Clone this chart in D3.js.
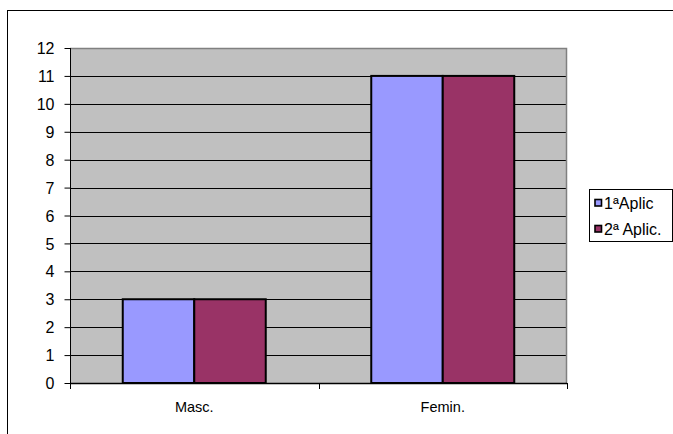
<!DOCTYPE html>
<html><head><meta charset="utf-8">
<script src="https://cdn.jsdelivr.net/npm/d3@7"></script>
<style>body{margin:0;background:#fff}svg{display:block}text{font-family:Arial,"Liberation Sans",sans-serif}</style>
</head><body>
<svg id="c" width="673" height="434"></svg>
<script>
const categories = ["Masc.", "Femin."];
const seriesNames = ["1ªAplic", "2ª Aplic."];
const serie1 = [3, 11];
const serie2 = [3, 11];
const yTicks = [0,1,2,3,4,5,6,7,8,9,10,11,12];
const colors = ["#9999FF", "#993366"];

const svg = d3.select("#c");
// outer frame
svg.append("rect").attr("x",7.5).attr("y",10.5).attr("width",680).attr("height",440)
  .attr("fill","none").attr("stroke","#000").attr("stroke-width",1);

const L=70, R=567, T=48, B=383;
const y = d3.scaleLinear().domain([0,12]).range([B,T]);
const x0 = d3.scaleBand().domain(categories).range([L,R]).paddingInner(0).paddingOuter(0);
const groupW = 143;
const x1 = d3.scaleBand().domain(seriesNames).range([0,groupW]);

svg.append("rect").attr("x",L).attr("y",T).attr("width",R-L).attr("height",B-T).attr("fill","#C0C0C0");
// gridlines
svg.append("g").selectAll("line").data(yTicks.filter(d=>d>0)).join("line")
  .attr("x1",L).attr("x2",R).attr("y1",d=>Math.round(y(d))+0.5).attr("y2",d=>Math.round(y(d))+0.5)
  .attr("stroke","#000").attr("stroke-width",1);
// plot border top/right grey
svg.append("path").attr("d",`M${L},${T+0.5}H${R-0.5}V${B}`).attr("fill","none").attr("stroke","#808080").attr("stroke-width",1.5);

const data = [serie1, serie2];
const g = svg.append("g");
categories.forEach((c,i)=>{
  const gx = x0(c) + (x0.bandwidth()-groupW)/2;
  seriesNames.forEach((s,j)=>{
    const v = data[j][i];
    g.append("rect").attr("x",gx+x1(s)).attr("y",y(v)).attr("width",x1.bandwidth()).attr("height",y(0)-y(v))
      .attr("fill",colors[j]).attr("stroke","#000").attr("stroke-width",2);
  });
});

// y axis
const ya = svg.append("g").attr("transform",`translate(${L+0.5},0)`)
  .call(d3.axisLeft(y).tickValues(yTicks).tickSize(6).tickPadding(10).tickFormat(d3.format("d")));
ya.select(".domain").attr("stroke","#000").attr("d",`M0,${T}V${B}`);
ya.selectAll("text").attr("font-size","16px").attr("fill","#000").attr("dy","0.35em")
  .style("font-family","Arial, 'Liberation Sans', sans-serif");
// x axis
const xa = svg.append("g").attr("transform",`translate(0,${B+0.5})`)
  .call(d3.axisBottom(x0).tickSize(0).tickPadding(0));
xa.select(".domain").remove();
xa.selectAll("text").attr("font-size","14.5px").attr("fill","#000").attr("y",28.5).attr("dy",0)
  .style("font-family","Arial, 'Liberation Sans', sans-serif");
svg.append("line").attr("x1",L).attr("x2",R).attr("y1",B+0.5).attr("y2",B+0.5).attr("stroke","#000").attr("stroke-width",1.5);
svg.append("g").selectAll("line").data([L,(L+R)/2,R]).join("line")
  .attr("x1",d=>Math.round(d)+0.5).attr("x2",d=>Math.round(d)+0.5).attr("y1",B).attr("y2",B+6).attr("stroke","#000");

// legend
const lg = svg.append("g");
lg.append("rect").attr("x",589.5).attr("y",189.5).attr("width",83).attr("height",52).attr("fill","#fff").attr("stroke","#000");
seriesNames.forEach((s,j)=>{
  const yy = 203 + j*26;
  lg.append("rect").attr("x",595).attr("y",yy-3.5).attr("width",6.5).attr("height",6.5).attr("fill",colors[j]).attr("stroke","#000").attr("stroke-width",1.6);
  lg.append("text").attr("x",604).attr("y",yy+6).attr("font-size","16px").text(s);
});
</script>
</body></html>
